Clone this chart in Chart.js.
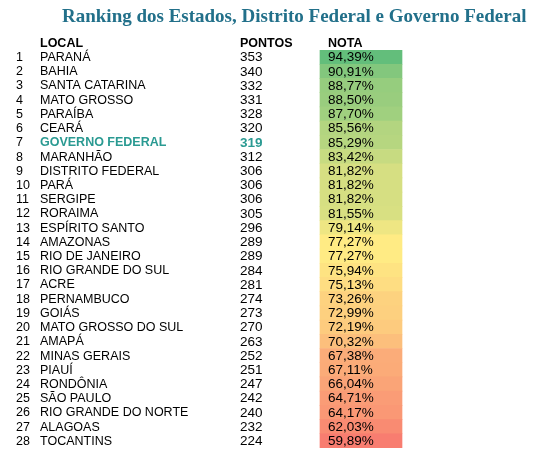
<!DOCTYPE html>
<html><head><meta charset="utf-8">
<script src="https://cdn.jsdelivr.net/npm/chart.js@4"></script>
<style>
body{margin:0;background:#fff}
#wrap{position:relative;width:538px;height:459px}
#title{position:absolute;top:5px;left:62px;width:470px;text-align:left;font:bold 19px "Liberation Serif",serif;color:#22708a;white-space:nowrap}
canvas{position:absolute;left:0;top:0}
</style></head>
<body><div id="wrap"><canvas id="c" width="538" height="459"></canvas>
<div id="title">Ranking dos Estados, Distrito Federal e Governo Federal</div></div>
<script>
const ranks = Array.from({length: 28}, (_, i) => String(i + 1))
const locais = ["PARANÁ","BAHIA","SANTA CATARINA","MATO GROSSO","PARAÍBA","CEARÁ","GOVERNO FEDERAL","MARANHÃO","DISTRITO FEDERAL","PARÁ","SERGIPE","RORAIMA","ESPÍRITO SANTO","AMAZONAS","RIO DE JANEIRO","RIO GRANDE DO SUL","ACRE","PERNAMBUCO","GOIÁS","MATO GROSSO DO SUL","AMAPÁ","MINAS GERAIS","PIAUÍ","RONDÔNIA","SÃO PAULO","RIO GRANDE DO NORTE","ALAGOAS","TOCANTINS"]
const pontos = [353,340,332,331,328,320,319,312,306,306,306,305,296,289,289,284,281,274,273,270,263,252,251,247,242,240,232,224]
const notas = [94.39,90.91,88.77,88.50,87.70,85.56,85.29,83.42,81.82,81.82,81.82,81.55,79.14,77.27,77.27,75.94,75.13,73.26,72.99,72.19,70.32,67.38,67.11,66.04,64.71,64.17,62.03,59.89]
const headers = ["LOCAL", "PONTOS", "NOTA"]
const highlight = "GOVERNO FEDERAL"

// column x positions (pixel scale 0..538)
const colRank = 16, colName = 40, colPts = 240, cellL = 320, cellR = 402
const F = '"Liberation Sans", Arial, sans-serif'

// excel-like 3 colour scale
const sorted = [...notas].sort((a, b) => a - b)
const mn = sorted[0], mx = sorted[sorted.length - 1]
const mid = (sorted[13] + sorted[14]) / 2
const lo = [248, 125, 112], md = [255, 235, 132], hi = [99, 190, 123]
function mix (a, b, t) { return 'rgb(' + a.map((v, i) => Math.round(v + (b[i] - v) * t)).join(',') + ')' }
function colorFor (v) {
  return v < mid ? mix(lo, md, (v - mn) / (mid - mn)) : mix(md, hi, (v - mid) / (mx - mid))
}

const textPlugin = {
  id: 'tableText',
  afterDatasetsDraw (chart) {
    const c = chart.ctx, y = chart.scales.y
    const step = y.getPixelForValue(1) - y.getPixelForValue(0)
    c.save()
    c.textBaseline = 'middle'
    c.font = 'bold 12.5px ' + F
    c.fillStyle = '#000'
    const hy = y.getPixelForValue(0) - step + 1
    c.fillText(headers[0], colName, hy)
    c.fillText(headers[1], colPts, hy)
    c.fillText(headers[2], cellL + 8, hy)
    ranks.forEach((r, i) => {
      const py = y.getPixelForValue(i) + 0.5
      const hl = locais[i] === highlight
      c.font = '12.5px ' + F
      c.fillStyle = '#000'
      c.fillText(r, colRank, py)
      c.font = (hl ? 'bold ' : '') + '12.5px ' + F
      c.fillStyle = hl ? '#2a9a92' : '#000'
      c.fillText(locais[i], colName, py)
      c.font = (hl ? 'bold ' : '') + '13.5px ' + F
      c.fillText(String(pontos[i]), colPts, py)
      c.font = '13.5px ' + F
      c.fillStyle = '#000'
      c.fillText(notas[i].toFixed(2).replace('.', ',') + '%', cellL + 8, py)
    })
    c.restore()
  }
}

new Chart(document.getElementById('c'), {
  type: 'bar',
  data: {
    labels: ranks,
    datasets: [{
      data: notas.map(() => [cellL, cellR]),
      backgroundColor: notas.map(colorFor),
      barPercentage: 1, categoryPercentage: 1, borderWidth: 0
    }]
  },
  options: {
    indexAxis: 'y', responsive: false, animation: false,
    layout: { padding: { top: 50, bottom: 11, left: 0, right: 0 } },
    plugins: { legend: { display: false }, tooltip: { enabled: false } },
    scales: {
      x: { type: 'linear', min: 0, max: 538, display: false },
      y: { display: false }
    }
  },
  plugins: [textPlugin]
})
</script></body></html>
